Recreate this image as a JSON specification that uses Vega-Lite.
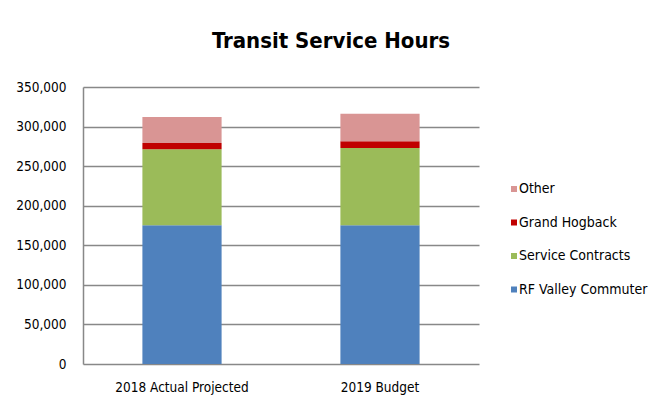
{
  "$schema": "https://vega.github.io/schema/vega-lite/v6.json",
  "width": 396,
  "height": 277,
  "autosize": {"type": "none"},
  "padding": {"left": 83, "top": 87, "right": 171, "bottom": 43},
  "background": "white",
  "title": {
    "text": "Transit Service Hours",
    "font": "DejaVu Sans Condensed, sans-serif",
    "fontSize": 22,
    "fontWeight": "bold",
    "color": "#000000",
    "anchor": "middle",
    "frame": "group",
    "offset": 27,
    "dx": 50
  },
  "data": {
    "values": [
      {"year": "2018 Actual Projected", "category": "RF Valley Commuter", "hours": 175400},
      {"year": "2018 Actual Projected", "category": "Service Contracts", "hours": 95800},
      {"year": "2018 Actual Projected", "category": "Grand Hogback", "hours": 8000},
      {"year": "2018 Actual Projected", "category": "Other", "hours": 32900},
      {"year": "2019 Budget", "category": "RF Valley Commuter", "hours": 175400},
      {"year": "2019 Budget", "category": "Service Contracts", "hours": 97400},
      {"year": "2019 Budget", "category": "Grand Hogback", "hours": 8500},
      {"year": "2019 Budget", "category": "Other", "hours": 35000}
    ]
  },
  "transform": [
    {"calculate": "indexof(['RF Valley Commuter', 'Service Contracts', 'Grand Hogback', 'Other'], datum.category)", "as": "stackRank"}
  ],
  "mark": {"type": "bar"},
  "encoding": {
    "x": {
      "field": "year",
      "type": "nominal",
      "sort": null,
      "scale": {"paddingInner": 0.6, "paddingOuter": 0.3},
      "axis": {
        "title": null,
        "labelAngle": 0,
        "ticks": false,
        "domain": false,
        "grid": false,
        "labelPadding": 16,
        "labelFontSize": 13.5,
        "labelColor": "#000000",
        "labelFont": "DejaVu Sans Condensed, sans-serif"
      }
    },
    "y": {
      "field": "hours",
      "type": "quantitative",
      "stack": "zero",
      "scale": {"domain": [0, 350000], "nice": false},
      "axis": {
        "title": null,
        "grid": true,
        "values": [0, 50000, 100000, 150000, 200000, 250000, 300000, 350000],
        "format": ",d",
        "ticks": false,
        "labelPadding": 17,
        "labelFontSize": 13.5,
        "labelColor": "#000000",
        "labelFont": "DejaVu Sans Condensed, sans-serif",
        "domainColor": "#888888",
        "domainWidth": 1.5,
        "gridColor": "#888888",
        "gridWidth": 1.5,
        "gridOpacity": 1
      }
    },
    "color": {
      "field": "category",
      "type": "nominal",
      "scale": {
        "domain": ["RF Valley Commuter", "Service Contracts", "Grand Hogback", "Other"],
        "range": ["#4F81BD", "#9BBB59", "#C00000", "#D99594"]
      },
      "legend": {
        "title": null,
        "orient": "none",
        "legendX": 424,
        "legendY": 95,
        "values": ["Other", "Grand Hogback", "Service Contracts", "RF Valley Commuter"],
        "symbolType": "square",
        "symbolSize": 36,
        "symbolStrokeWidth": 0,
        "labelFontSize": 14,
        "labelOffset": -2,
        "labelColor": "#000000",
        "labelFont": "DejaVu Sans Condensed, sans-serif",
        "rowPadding": 19.5,
        "padding": 0
      }
    },
    "order": {"field": "stackRank", "type": "quantitative", "sort": "ascending"}
  },
  "config": {
    "view": {"stroke": null}
  }
}
